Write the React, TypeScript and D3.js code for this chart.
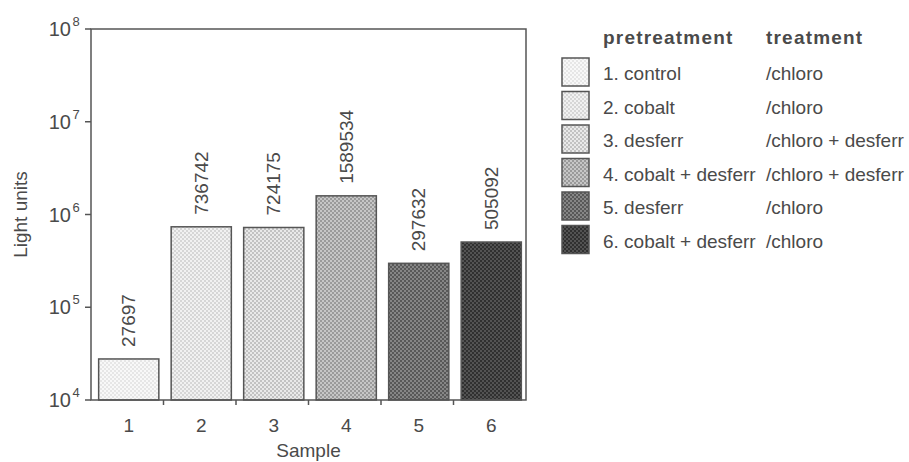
import React from "react";
import * as d3 from "d3";

const samples = ["1", "2", "3", "4", "5", "6"];
const values = [27697, 736742, 724175, 1589534, 297632, 505092];
const yTickExps = [4, 5, 6, 7, 8];
const pretreatment = ["1. control", "2. cobalt", "3. desferr", "4. cobalt + desferr", "5. desferr", "6. cobalt + desferr"];
const treatment = ["/chloro", "/chloro", "/chloro + desferr", "/chloro + desferr", "/chloro", "/chloro"];
const lightShades = ["#f8f8f8", "#f1f1f1", "#e9e9e9", "#c6c6c6", "#868686", "#535353"];
const darkShades = ["#e6e6e6", "#d6d6d6", "#c2c2c2", "#9a9a9a", "#585858", "#303030"];

const W = 909;
const H = 462;
const M = { left: 91, right: 526, top: 29, bottom: 400 };
const FONT = "'Liberation Sans', Arial, Helvetica, sans-serif";
const TEXT = "#4a4a4a";
const LINE = "#555";

export default function App() {
  const x = d3.scaleBand<string>().domain(samples).range([M.left, M.right]).paddingInner(0.17).paddingOuter(0.085);
  const y = d3.scaleLog().domain([1e4, 1e8]).range([M.bottom, M.top]);

  const legX = 562;
  const legRow0 = 80;
  const legStep = 33.5;

  return (
    <svg width={W} height={H} style={{ position: "absolute", left: 0, top: 0, background: "#fff" }} fontFamily={FONT}>
      <defs>
        {samples.map((s, i) => (
          <pattern key={s} id={`pat${i}`} width={4} height={4} patternUnits="userSpaceOnUse">
            <rect width={4} height={4} fill={lightShades[i]} />
            <rect x={0} y={0} width={2} height={2} fill={darkShades[i]} />
            <rect x={2} y={2} width={2} height={2} fill={darkShades[i]} />
          </pattern>
        ))}
      </defs>

      {samples.map((s, i) => {
        const bx = (x(s) as number) + 1.5;
        const by = y(values[i]);
        return (
          <g key={s}>
            <rect x={bx} y={by} width={x.bandwidth()} height={M.bottom - by} fill={`url(#pat${i})`} stroke={LINE} strokeWidth={1.5} />
            <text
              transform={`translate(${bx + x.bandwidth() / 2 + 6.5},${by - 12}) rotate(-90)`}
              fontSize={19}
              fill={TEXT}
            >
              {values[i]}
            </text>
          </g>
        );
      })}

      <rect x={M.left} y={M.top} width={M.right - M.left} height={M.bottom - M.top} fill="none" stroke={LINE} strokeWidth={1.5} />

      {yTickExps.map((e) => {
        const ty = y(Math.pow(10, e));
        return (
          <g key={e}>
            <line x1={M.left - 6} x2={M.left} y1={ty} y2={ty} stroke={LINE} strokeWidth={1.5} />
            <text x={71} y={ty + 7} fontSize={20} fill={TEXT} textAnchor="end">10</text>
            <text x={72.5} y={ty - 3} fontSize={13} fill={TEXT}>{e}</text>
          </g>
        );
      })}

      {samples.slice(1).map((s) => {
        const tx = (x(s) as number) - (x.step() - x.bandwidth()) / 2;
        return <line key={s} x1={tx} x2={tx} y1={M.bottom} y2={M.bottom + 5} stroke={LINE} strokeWidth={1.5} />;
      })}

      {samples.map((s) => (
        <text key={s} x={(x(s) as number) + 1.5 + x.bandwidth() / 2} y={432} fontSize={19} fill={TEXT} textAnchor="middle">
          {s}
        </text>
      ))}

      <text x={(M.left + M.right) / 2} y={457} fontSize={19} fill={TEXT} textAnchor="middle">Sample</text>
      <text transform={`translate(27,${(M.top + M.bottom) / 2}) rotate(-90)`} fontSize={19} fill={TEXT} textAnchor="middle">Light units</text>

      <text x={603} y={44} fontSize={19} fontWeight="bold" fill={TEXT} letterSpacing={1.2}>pretreatment</text>
      <text x={766} y={44} fontSize={19} fontWeight="bold" fill={TEXT} letterSpacing={1.2}>treatment</text>
      {pretreatment.map((p, i) => {
        const by = legRow0 + i * legStep;
        return (
          <g key={p}>
            <rect x={legX} y={by - 22} width={27} height={28} fill={`url(#pat${i})`} stroke={LINE} strokeWidth={1.5} />
            <text x={603} y={by} fontSize={19} fill={TEXT}>{p}</text>
            <text x={766} y={by} fontSize={19} fill={TEXT}>{treatment[i]}</text>
          </g>
        );
      })}
    </svg>
  );
}
